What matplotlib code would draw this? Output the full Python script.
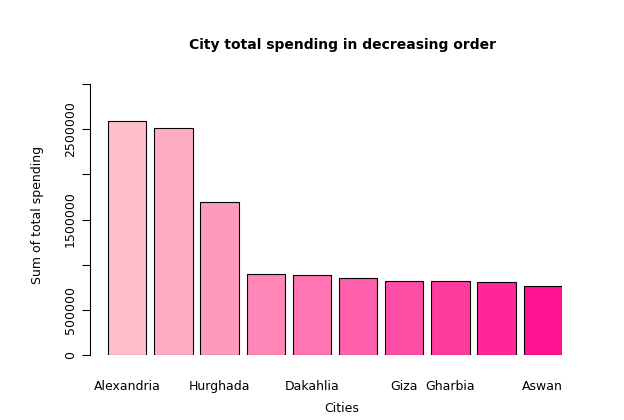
import matplotlib.pyplot as plt
import numpy as np
from matplotlib.colors import LinearSegmentedColormap

# city totals (R barplot)
cities = ["Alexandria", "Cairo", "Hurghada", "Sharm El Sheikh", "Dakahlia",
          "Ismailia", "Giza", "Gharbia", "Qena", "Aswan"]
shown = ["Alexandria", "", "Hurghada", "", "Dakahlia", "", "Giza", "Gharbia", "", "Aswan"]
spending = [2590000, 2510000, 1690000, 895000, 885000, 852000, 820000, 818000, 808000, 763000]

cmap = LinearSegmentedColormap.from_list("pk", ["#FFC0CB", "#FF1493"])
colors = [cmap(i / (len(cities) - 1)) for i in range(len(cities))]

fig = plt.figure(figsize=(6.24, 4.2), dpi=100)
ax = fig.add_axes([90 / 624, 65 / 420, 472 / 624, 271 / 420])

x = 0.7 + 1.2 * np.arange(len(cities))
ax.bar(x, spending, width=1.0, color=colors, edgecolor="black", linewidth=0.8)

ax.set_xlim(0.2 - 18 / 38.5, 12.0)
ax.set_ylim(0, 3000000)
for s in ["top", "right", "bottom"]:
    ax.spines[s].set_visible(False)
ax.set_yticks(np.arange(0, 3000001, 500000))
ax.set_yticklabels(["0", "", "500000", "", "1500000", "", "2500000"][:0] or
                   ["0", "500000", "", "1500000", "", "2500000", ""],
                   rotation=90, va="center", fontsize=9)
ax.set_xticks(x)
ax.set_xticklabels(shown, fontsize=9)
ax.tick_params(axis="x", length=0, pad=18)
ax.tick_params(axis="y", length=6)

fig.text(0.5 + 30 / 624, 1 - 45 / 420, "City total spending in decreasing order",
         ha="center", va="center", fontsize=10, fontweight="bold")
fig.text(38 / 624, 1 - 215 / 420, "Sum of total spending", rotation=90,
         ha="center", va="center", fontsize=9)
fig.text(0.5 + 30 / 624, 1 - 408 / 420, "Cities", ha="center", va="center", fontsize=9)

fig.savefig("out.png", dpi=100)
